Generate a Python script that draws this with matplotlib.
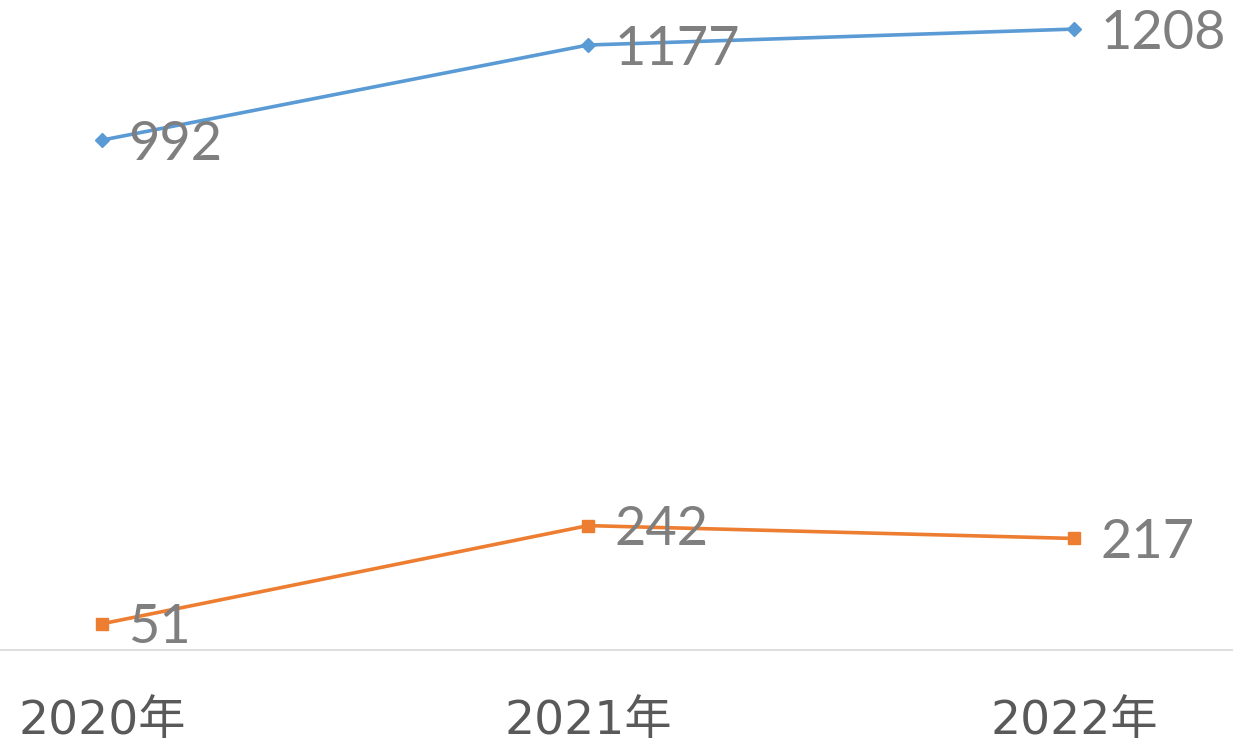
import matplotlib
matplotlib.use('Agg')
import matplotlib.pyplot as plt

# 数据
years = ['2020年', '2021年', '2022年']
series_blue = [992, 1177, 1208]
series_orange = [51, 242, 217]

W, H, DPI = 1233, 744, 100
fig = plt.figure(figsize=(W / DPI, H / DPI), dpi=DPI)
ax = fig.add_axes([0, 0, 1, 1])

x = list(range(len(years)))
# 像素换算：类别间距486px，首个类别在x=102px；0值在y=650px，0.514px/单位
ax.set_xlim(-102 / 486, (W - 102) / 486)
ax.set_ylim(-(H - 650) / 0.514, 650 / 0.514)

ax.plot(x, series_blue, color='#5B9BD5', linewidth=2.6, marker='D',
        markersize=7.5, zorder=3)
ax.plot(x, series_orange, color='#ED7D31', linewidth=2.6, marker='s',
        markersize=9, zorder=3)

# 数据标签
for xs, ys in [(x, series_blue), (x, series_orange)]:
    for xi, yi in zip(xs, ys):
        ax.annotate(str(yi), (xi, yi), xytext=(19, -3), textcoords='offset points',
                    ha='left', va='center', fontsize=39, color='#7F7F7F',
                    family=['Lato', 'DejaVu Sans'], zorder=4)

# 坐标轴
for s in ['top', 'left', 'right']:
    ax.spines[s].set_visible(False)
ax.spines['bottom'].set_position(('data', 0))
ax.spines['bottom'].set_color('#D9D9D9')
ax.spines['bottom'].set_linewidth(1.2)
ax.set_yticks([])
ax.set_xticks(x)
ax.set_xticklabels(years, fontsize=34, color='#595959',
                   family=['DejaVu Sans', 'Noto Sans CJK SC'])
ax.tick_params(axis='x', length=0, pad=35)
ax.patch.set_alpha(0)

fig.savefig('out.png', dpi=DPI)
